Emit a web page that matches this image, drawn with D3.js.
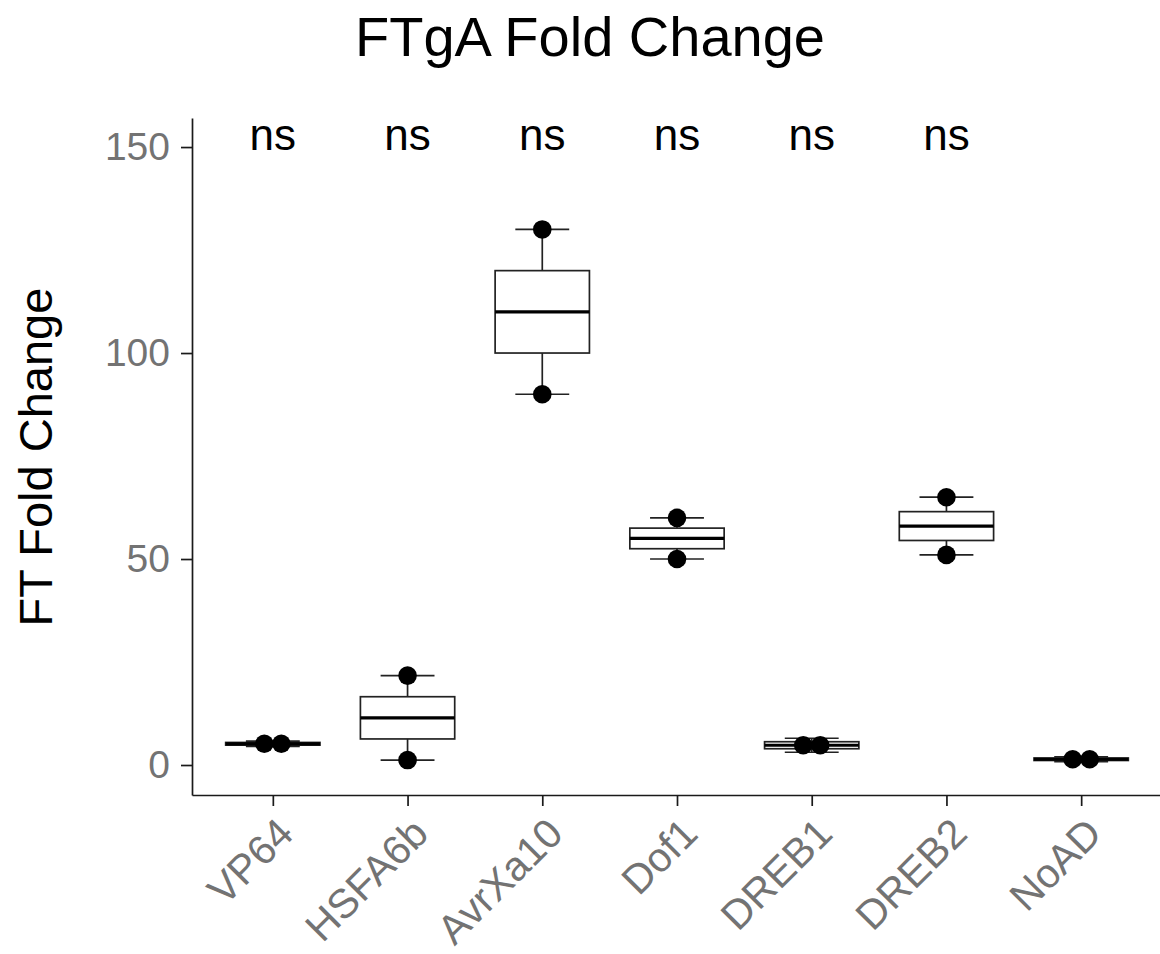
<!DOCTYPE html>
<html>
<head>
<meta charset="utf-8">
<script src="https://cdn.jsdelivr.net/npm/d3@7"></script>
<style>
  body { margin: 0; background: #fff; }
  text { font-family: "Liberation Sans", Arial, Helvetica, sans-serif; }
</style>
</head>
<body>
<div id="plot"></div>
<script>
/*------------------------------------------*/
/*            Data                          */
/*------------------------------------------*/

var categories = ["VP64", "HSFA6b", "AvrXa10", "Dof1", "DREB1", "DREB2", "NoAD"];
var rep1 = [4.5, 1.2, 90, 50, 3.1, 51, 0.8];
var rep2 = [5.8, 21.7, 130, 60, 6.5, 65, 2.0];
var sigLabels = ["ns", "ns", "ns", "ns", "ns", "ns"];
var yTicks = [0, 50, 100, 150];

/*------------------------------------------*/
/*            Chart                         */
/*------------------------------------------*/

var W = 1160, H = 954;
var panel = {left: 192, right: 1162, top: 118, bottom: 795};

var svg = d3.select("#plot").append("svg")
    .attr("width", W)
    .attr("height", H);

var x = d3.scalePoint()
    .domain(categories)
    .range([panel.left, panel.right])
    .padding(0.6);

var y = d3.scaleLinear()
    .domain([-7.28, 157.05])
    .range([panel.bottom, panel.top]);

var step = x.step(),
    boxW = step * 0.7,
    capW = step * 0.4,
    dotR = 9.3,
    binwidth = (d3.max(rep1.concat(rep2)) - d3.min(rep1.concat(rep2))) / 30;

// box stats, like ggplot for n = 2
var table = categories.map(function(c, i) {
  var vals = [rep1[i], rep2[i]].sort(d3.ascending);
  return {
    cat: c,
    vals: vals,
    min: vals[0],
    max: vals[1],
    q1: d3.quantile(vals, 0.25),
    med: d3.quantile(vals, 0.5),
    q3: d3.quantile(vals, 0.75)
  };
});

// dotplot: close values share a bin and stack side by side
var dots = [];
table.forEach(function(d) {
  if (d.max - d.min < binwidth) {
    var m = (d.min + d.max) / 2;
    dots.push({cat: d.cat, v: m, off: -8.5});
    dots.push({cat: d.cat, v: m, off: 8.5});
  } else {
    d.vals.forEach(function(v) { dots.push({cat: d.cat, v: v, off: 0}); });
  }
});

/*------------------------------------------*/
/*            Axes                          */
/*------------------------------------------*/

var axisCol = "#1a1a1a", tickTextCol = "#737373";

var yAxis = svg.append("g")
    .attr("transform", "translate(" + panel.left + ",0)")
    .call(d3.axisLeft(y).tickValues(yTicks).tickSize(11).tickSizeOuter(0).tickPadding(11));

var xAxis = svg.append("g")
    .attr("transform", "translate(0," + panel.bottom + ")")
    .call(d3.axisBottom(x).tickSize(11).tickSizeOuter(0).tickFormat(""));

[yAxis, xAxis].forEach(function(a) {
  a.select(".domain").attr("stroke", axisCol).attr("stroke-width", 1.7);
  a.selectAll(".tick line").attr("stroke", axisCol).attr("stroke-width", 1.7);
});

yAxis.selectAll(".tick text")
    .attr("fill", tickTextCol)
    .style("font-size", "39px");

svg.append("g").selectAll("text")
    .data(categories)
    .enter().append("text")
    .attr("transform", function(d) { return "translate(" + (x(d) + 2) + "," + 815 + ") rotate(-45)"; })
    .attr("text-anchor", "end")
    .attr("dy", "0.72em")
    .attr("fill", tickTextCol)
    .style("font-size", "41px")
    .text(function(d) { return d; });

/*------------------------------------------*/
/*            Boxes                         */
/*------------------------------------------*/

var g = svg.append("g");

var whisk = g.selectAll(".whisk")
    .data(table)
    .enter().append("g")
    .attr("class", "whisk");

whisk.append("line")
    .attr("x1", function(d) { return x(d.cat); })
    .attr("x2", function(d) { return x(d.cat); })
    .attr("y1", function(d) { return y(d.min); })
    .attr("y2", function(d) { return y(d.max); });

whisk.append("line")
    .attr("x1", function(d) { return x(d.cat) - capW / 2; })
    .attr("x2", function(d) { return x(d.cat) + capW / 2; })
    .attr("y1", function(d) { return y(d.min); })
    .attr("y2", function(d) { return y(d.min); });

whisk.append("line")
    .attr("x1", function(d) { return x(d.cat) - capW / 2; })
    .attr("x2", function(d) { return x(d.cat) + capW / 2; })
    .attr("y1", function(d) { return y(d.max); })
    .attr("y2", function(d) { return y(d.max); });

whisk.selectAll("line")
    .attr("stroke", "#222")
    .attr("stroke-width", 1.7);

g.selectAll(".box")
    .data(table)
    .enter().append("rect")
    .attr("class", "box")
    .attr("x", function(d) { return x(d.cat) - boxW / 2; })
    .attr("width", boxW)
    .attr("y", function(d) { return y(d.q3); })
    .attr("height", function(d) { return y(d.q1) - y(d.q3); })
    .attr("fill", "#fff")
    .attr("stroke", "#222")
    .attr("stroke-width", 1.7);

g.selectAll(".med")
    .data(table)
    .enter().append("line")
    .attr("class", "med")
    .attr("x1", function(d) { return x(d.cat) - boxW / 2; })
    .attr("x2", function(d) { return x(d.cat) + boxW / 2; })
    .attr("y1", function(d) { return y(d.med); })
    .attr("y2", function(d) { return y(d.med); })
    .attr("stroke", "#000")
    .attr("stroke-width", 3.2);

g.selectAll(".point")
    .data(dots)
    .enter().append("circle")
    .attr("class", "point")
    .attr("cx", function(d) { return x(d.cat) + d.off; })
    .attr("cy", function(d) { return y(d.v); })
    .attr("r", dotR)
    .attr("fill", "#000");

/*------------------------------------------*/
/*            Labels                        */
/*------------------------------------------*/

svg.append("g").selectAll("text")
    .data(sigLabels)
    .enter().append("text")
    .attr("x", function(d, i) { return x(categories[i]); })
    .attr("y", y(149.3))
    .attr("text-anchor", "middle")
    .attr("fill", "#000")
    .style("font-size", "44px")
    .text(function(d) { return d; });

svg.append("text")
    .attr("x", 590)
    .attr("y", 56)
    .attr("text-anchor", "middle")
    .attr("fill", "#000")
    .style("font-size", "56px")
    .text("FTgA Fold Change");

svg.append("text")
    .attr("transform", "translate(52," + 457 + ") rotate(-90)")
    .attr("text-anchor", "middle")
    .attr("fill", "#000")
    .style("font-size", "47px")
    .text("FT Fold Change");
</script>
</body>
</html>
